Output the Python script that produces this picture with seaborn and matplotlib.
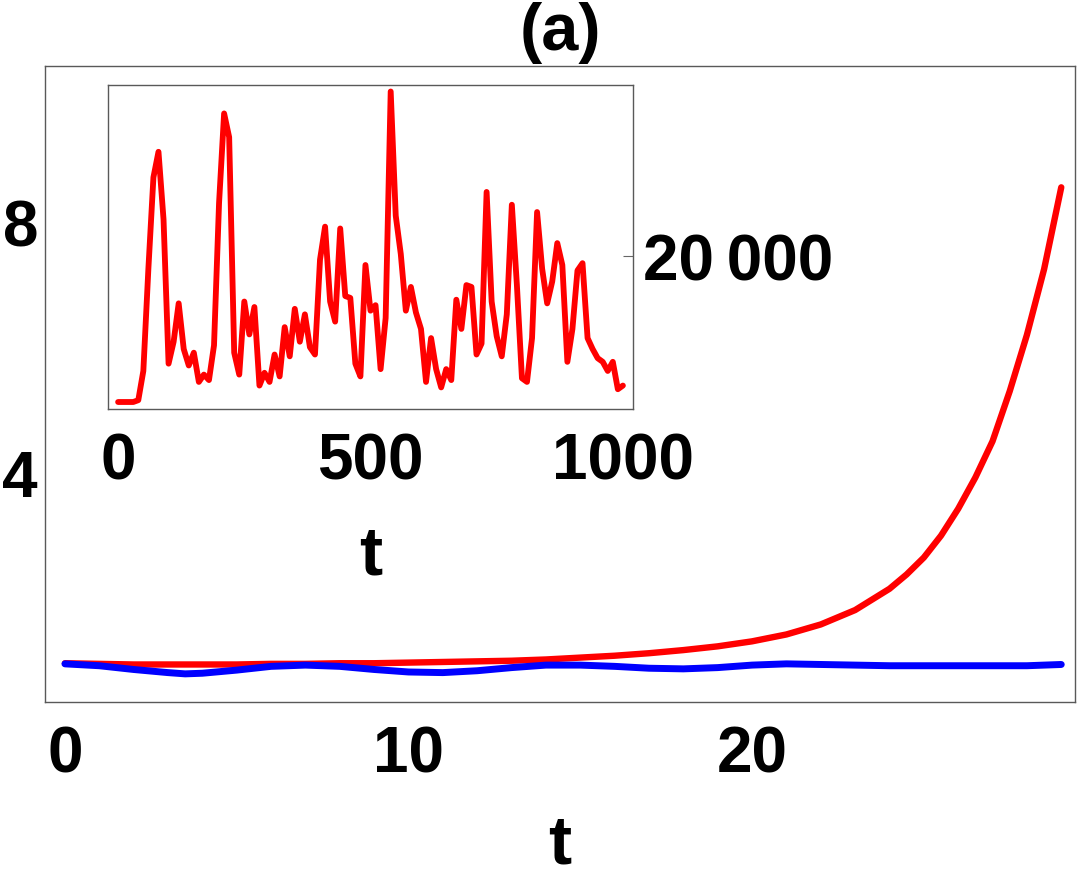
import seaborn as sns
import matplotlib.pyplot as plt
import pandas as pd
import numpy as np

# main panel: two curves over t
t_main = [0, 1, 2, 3, 3.5, 4, 5, 6, 7, 8, 9, 10, 11, 12, 13, 14, 15, 16, 17, 18,
          19, 20, 21, 22, 23, 24, 24.5, 25, 25.5, 26, 26.5, 27, 27.5, 28, 28.5, 29]
red_main = [0.95, 0.94, 0.93, 0.93, 0.93, 0.93, 0.93, 0.94, 0.94, 0.95, 0.95, 0.96,
            0.97, 0.98, 0.99, 1.01, 1.04, 1.07, 1.11, 1.16, 1.22, 1.30, 1.41, 1.57,
            1.80, 2.14, 2.37, 2.64, 2.99, 3.42, 3.92, 4.50, 5.30, 6.20, 7.25, 8.56]
blue_main = [0.94, 0.91, 0.85, 0.80, 0.78, 0.79, 0.84, 0.90, 0.92, 0.90, 0.85, 0.81,
             0.80, 0.83, 0.88, 0.92, 0.92, 0.90, 0.87, 0.86, 0.88, 0.92, 0.94, 0.93,
             0.92, 0.91, 0.91, 0.91, 0.91, 0.91, 0.91, 0.91, 0.91, 0.91, 0.92, 0.93]

# inset: long run of the red quantity
t_inset = [0, 10, 20, 30, 40, 50, 60, 70, 80, 90, 100, 110, 120, 130, 140, 150, 160,
           170, 180, 190, 200, 210, 220, 230, 240, 250, 260, 270, 280, 290, 300, 310,
           320, 330, 340, 350, 360, 370, 380, 390, 400, 410, 420, 430, 440, 450, 460,
           470, 480, 490, 500, 510, 520, 530, 540, 550, 560, 570, 580, 590, 600, 610,
           620, 630, 640, 650, 660, 670, 680, 690, 700, 710, 720, 730, 740, 750, 760,
           770, 780, 790, 800, 810, 820, 830, 840, 850, 860, 870, 880, 890, 900, 910,
           920, 930, 940, 950, 960, 970, 980, 990, 1000]
v_inset = [12000, 12000, 12000, 12000, 12100, 13700, 19300, 24300, 25700, 22000,
           14100, 15300, 17400, 14900, 14000, 14700, 13100, 13500, 13200, 15100,
           22900, 27800, 26500, 14700, 13500, 17500, 15700, 17200, 12900, 13600,
           13100, 14600, 13400, 16100, 14500, 17100, 15300, 16800, 15000, 14600,
           19800, 21600, 17500, 16400, 21500, 17800, 17700, 14100, 13400, 19500,
           17000, 17300, 13800, 16600, 29000, 22200, 20100, 17000, 18300, 16900,
           16000, 13100, 15500, 13800, 12800, 13800, 13200, 17600, 16000, 18400,
           18300, 14600, 15200, 23500, 17500, 15600, 14500, 16800, 22800, 18400,
           13300, 13100, 15500, 22400, 19300, 17400, 18600, 20700, 19500, 14200,
           16000, 19200, 19600, 15500, 14900, 14400, 14200, 13700, 14200, 12700,
           12900]

sns.set_theme(style="white")
plt.rcParams['font.family'] = ['Liberation Sans', 'DejaVu Sans']
plt.rcParams['font.weight'] = 'bold'
plt.rcParams['text.color'] = 'black'
plt.rcParams['axes.labelcolor'] = 'black'

fig = plt.figure(figsize=(10.79, 8.79), dpi=100)
ax = fig.add_axes([45 / 1079, 1 - 703 / 879, 1030 / 1079, 636 / 879])

sns.lineplot(x=t_main, y=red_main, ax=ax, color=(1, 0, 0), lw=4.6)
sns.lineplot(x=t_main, y=blue_main, ax=ax, color=(0, 0, 1), lw=5.0)
ax.set_xlim(-0.58, 29.4)
ax.set_ylim(0.33, 10.5)
ax.set_xticks([0, 10, 20])
ax.set_yticks([4, 8])
ax.tick_params(direction='in', length=9, width=0.8, color='0.4',
               labelsize=46, pad=16, labelcolor='black')
ax.tick_params(axis='y', pad=5)
for lab in ax.get_xticklabels() + ax.get_yticklabels():
    lab.set_fontweight('bold')
for s in ax.spines.values():
    s.set_color('0.35')
    s.set_linewidth(1.0)
ax.set_xlabel('t', fontsize=50, fontweight='bold', va='center')
ax.xaxis.set_label_coords(0.5, -(846 - 703) / 636)
ax.text(0.5, 1 + (67 - 33) / 636, '(a)', transform=ax.transAxes, ha='center',
        va='center', fontsize=48, fontweight='bold')

ins = fig.add_axes([108 / 1079, 1 - 410 / 879, 525 / 1079, 324 / 879])
sns.lineplot(x=t_inset, y=v_inset, ax=ins, color=(1, 0, 0), lw=4.2)
ins.set_xlim(-20, 1020)
ins.set_ylim(11617, 29356)
ins.set_xticks([0, 500, 1000])
ins.set_yticks([20000])
ins.set_yticklabels(['20\u2009000'])
ins.yaxis.tick_right()
ins.tick_params(direction='in', length=7, width=0.8, color='0.4',
                labelsize=46, pad=16, labelcolor='black')
ins.tick_params(axis='y', pad=7)
for lab in ins.get_xticklabels() + ins.get_yticklabels():
    lab.set_fontweight('bold')
for s in ins.spines.values():
    s.set_color('0.35')
    s.set_linewidth(1.0)
ins.set_xlabel('t', fontsize=50, fontweight='bold', va='center')
ins.xaxis.set_label_coords(0.5, -(557 - 410) / 324)

plt.savefig('out.png', dpi=100)
